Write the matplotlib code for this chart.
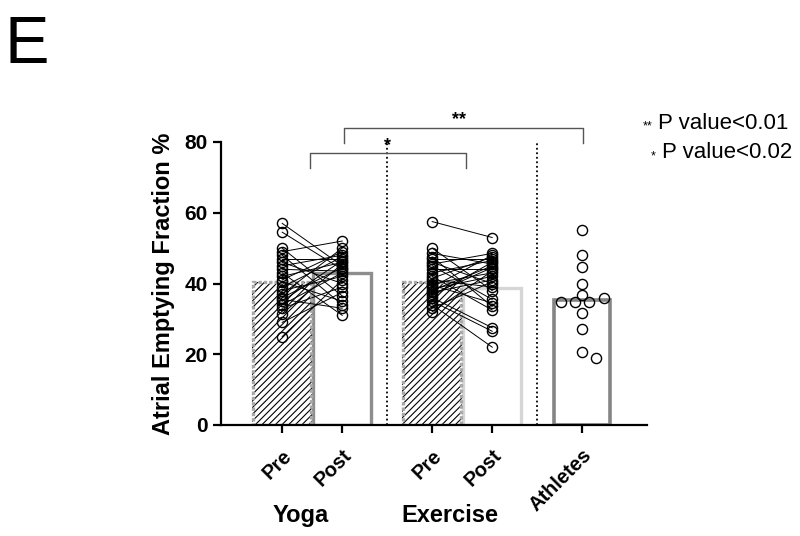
import matplotlib
matplotlib.use("Agg")
import matplotlib.pyplot as plt
import numpy as np

plt.rcParams['font.family'] = ['Liberation Sans', 'DejaVu Sans']
plt.rcParams['hatch.linewidth'] = 0.8

# x positions of the five groups
pos = [0, 1, 2.5, 3.5, 5]
tick_labels = ['Pre', 'Post', 'Pre', 'Post', 'Athletes']
group_names = ['Yoga', 'Exercise']

# bar heights (group means)
means = [40.5, 43, 40.5, 38.7, 35.2]

# paired subjects
yoga_pre = [57, 54.5, 50, 49, 48, 47, 46, 45, 44, 43, 42, 41, 40.5, 39, 38, 37,
            36, 35.5, 35, 34, 33, 31.5, 29, 25]
yoga_post = [45, 44, 36.5, 52, 34, 47, 40, 48, 43.5, 31, 46, 49, 35, 47.5, 42, 50,
             44.5, 33, 46.5, 43, 39, 45.5, 37.5, 41]
ex_pre = [57.5, 50, 48.5, 47.5, 47, 46, 45.5, 45, 44, 43, 42, 41.5, 41, 40, 39.5,
          39, 38.5, 38, 37.5, 37, 36.5, 36, 35, 34, 33, 32]
ex_post = [53, 38, 45.5, 33.5, 47, 40, 48.5, 35.5, 44, 46.5, 32.5, 47.5, 39, 43,
           34.5, 48, 42, 45, 41, 44.5, 46, 27.5, 26.5, 22, 40.5, 43.5]
athletes = [55, 48, 44.7, 40, 36.7, 34.8, 34.8, 36, 34.8, 31.7, 27, 20.7, 19]

fig = plt.figure(figsize=(8, 5.36), dpi=100)
ax = fig.add_axes([221/800, 1 - 425/536, 426/800, 283/536])
ax.set_xlim(-1.02, 6.08)
ax.set_ylim(0, 80)

# bars
hatched = [0, 2]
for i in hatched:
    ax.bar(pos[i], means[i], width=1, color='white', edgecolor='black',
           hatch='/////', linewidth=0, zorder=1)
    ax.bar(pos[i], means[i], width=0.96, fill=False, edgecolor='#a8a8a8',
           linewidth=2.4, linestyle=(0, (1, 0.6)), zorder=2)
ax.bar(pos[1], means[1], width=0.96, color='none', edgecolor='#8e8e8e',
       linewidth=2.4, zorder=1)
ax.bar(pos[3], means[3], width=0.96, color='none', edgecolor='#d6d6d6',
       linewidth=2.4, zorder=1)
ax.bar(pos[4], means[4], width=0.93, color='none', edgecolor='#858585',
       linewidth=2.6, zorder=1)

# paired lines + points
mk = dict(marker='o', ms=7.3, mfc='none', mec='black', mew=1.0, ls='none', zorder=4)
for a, b, x0, x1 in [(yoga_pre, yoga_post, pos[0], pos[1]),
                     (ex_pre, ex_post, pos[2], pos[3])]:
    for p, q in zip(a, b):
        ax.plot([x0, x1], [p, q], color='black', lw=0.7, zorder=3)
    ax.plot([x0] * len(a), a, **mk)
    ax.plot([x1] * len(b), b, **mk)

# simple beeswarm for athletes (pixel space: 60 px per x unit, 3.54 px per y unit)
d = 9.5
placed = []
xs = []
for v in athletes:
    k = 0
    while True:
        for off in ([0] if k == 0 else [k, -k]):
            ox = off * d * 0.75
            ok = all((ox - px) ** 2 + ((v - py) * 3.54) ** 2 >= d ** 2 for px, py in placed)
            if ok:
                break
        if ok:
            break
        k += 1
    placed.append((ox, v))
    xs.append(pos[4] + ox / 60)
ax.plot(xs, athletes, **mk)

# dotted separators
for xv in [(pos[1] + pos[2]) / 2, (pos[3] + pos[4]) / 2]:
    ax.plot([xv, xv], [0, 80], color='black', ls=(0, (1, 1.5)), lw=1.3,
            zorder=2, clip_on=False)

# significance brackets
def bracket(x0, x1, y, drop, label, ty):
    ax.plot([x0, x0, x1, x1], [y - drop, y, y, y - drop], color='#555555',
            lw=1.0, clip_on=False, zorder=5)
    ax.text(ty[0], ty[1], label, ha='center', va='center', fontsize=13,
            fontweight='bold', clip_on=False)

bracket(0.47, 3.07, 76.8, 4.2, '*', (1.75, 79.0))
bracket(1.03, 5.02, 83.9, 4.2, '**', (2.95, 86.4))

# axes styling
for s in ['top', 'right']:
    ax.spines[s].set_visible(False)
ax.spines['left'].set_linewidth(1.6)
ax.spines['bottom'].set_linewidth(1.6)
ax.set_yticks([0, 20, 40, 60, 80])
ax.tick_params(axis='both', width=1.6, length=6, labelsize=15)
for t in ax.get_yticklabels():
    t.set_fontweight('bold')
ax.set_xticks(pos)
ax.set_xticklabels(tick_labels, rotation=45, ha='right', rotation_mode='anchor',
                   fontweight='bold', fontsize=14.5)
ax.tick_params(axis='x', pad=9)
ax.set_ylabel('Atrial Emptying Fraction %', fontsize=17, fontweight='bold',
              labelpad=7)

# group names
for name, xc in zip(group_names, [0.3, 2.8]):
    ax.text(xc, -0.32, name, transform=ax.get_xaxis_transform(), ha='center',
            va='center', fontsize=17, fontweight='bold')

# legend text
fig.text(0.81, 0.764, '**', fontsize=9, ha='center', va='center')
fig.text(0.823, 0.77, 'P value<0.01', fontsize=16, ha='left', va='center')
fig.text(0.816, 0.709, '*', fontsize=9, ha='center', va='center')
fig.text(0.827, 0.715, 'P value<0.02', fontsize=16, ha='left', va='center')

# panel letter
fig.text(0.005, 1 - 63/536, 'E', fontsize=48, ha='left', va='baseline')

fig.savefig('out.png', dpi=100)
